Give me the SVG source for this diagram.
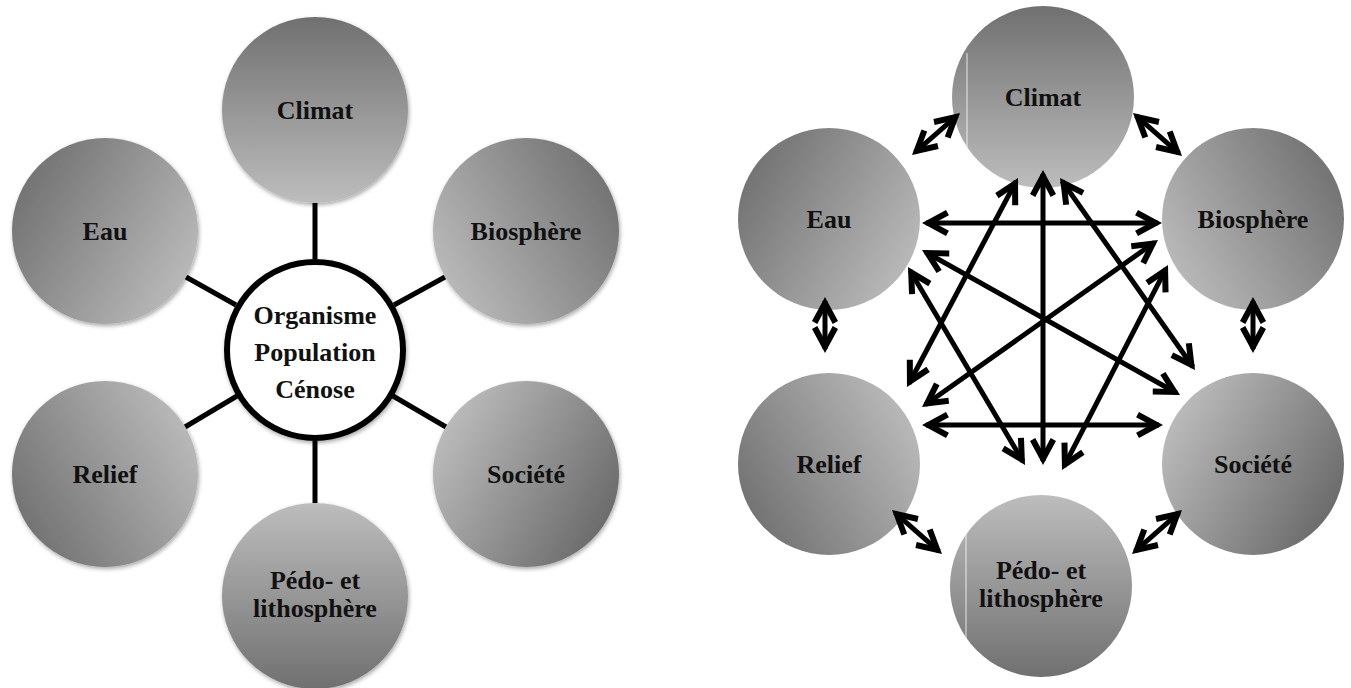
<svg xmlns="http://www.w3.org/2000/svg" xmlns:xlink="http://www.w3.org/1999/xlink" width="1351" height="688" viewBox="0 0 1351 688">
<style>
.t{font-family:"Liberation Serif","Times New Roman",serif;font-weight:bold;font-size:26px;text-anchor:middle;fill:#111}
.ln{stroke:#000;stroke-width:5;fill:none}
.sh{stroke:#000;stroke-width:5;fill:none}
.art{stroke:#fff;stroke-width:1;opacity:0.8}
</style>
<defs>
<linearGradient id="gTop" x1="0.5" y1="0" x2="0.5" y2="1"><stop offset="0" stop-color="#707070"/><stop offset="1" stop-color="#bdbdbd"/></linearGradient>
<linearGradient id="gBot" x1="0.5" y1="1" x2="0.5" y2="0"><stop offset="0" stop-color="#707070"/><stop offset="1" stop-color="#bdbdbd"/></linearGradient>
<linearGradient id="gUL" x1="0.067" y1="0.25" x2="0.933" y2="0.75"><stop offset="0" stop-color="#747474"/><stop offset="1" stop-color="#b8b8b8"/></linearGradient>
<linearGradient id="gUR" x1="0.933" y1="0.25" x2="0.067" y2="0.75"><stop offset="0" stop-color="#747474"/><stop offset="1" stop-color="#b8b8b8"/></linearGradient>
<linearGradient id="gLL" x1="0.067" y1="0.75" x2="0.933" y2="0.25"><stop offset="0" stop-color="#747474"/><stop offset="1" stop-color="#b8b8b8"/></linearGradient>
<linearGradient id="gLR" x1="0.933" y1="0.75" x2="0.067" y2="0.25"><stop offset="0" stop-color="#6c6c6c"/><stop offset="1" stop-color="#bababa"/></linearGradient>
<filter id="sh" x="-20%" y="-20%" width="140%" height="140%"><feDropShadow dx="1" dy="2" stdDeviation="2" flood-color="#000" flood-opacity="0.35"/></filter>
<polygon id="chev" points="0,0 -24,-13 -26.9,-7.7 -12.5,0 -26.9,7.7 -24,13" fill="#000"/>
</defs>

<!-- LEFT DIAGRAM -->
<g id="left-connectors">
<line class="ln" x1="315" y1="203" x2="315" y2="259"/>
<line class="ln" x1="315" y1="441" x2="315" y2="503"/>
<line class="ln" x1="186" y1="277" x2="236" y2="305"/>
<line class="ln" x1="445" y1="277" x2="394" y2="305"/>
<line class="ln" x1="185" y1="427" x2="237" y2="396"/>
<line class="ln" x1="446" y1="427" x2="393" y2="396"/>
</g>
<g id="L-climat"><circle cx="315" cy="110" r="93" fill="url(#gTop)" filter="url(#sh)"/><text class="t" x="315" y="119">Climat</text></g>
<g id="L-eau"><circle cx="105" cy="231" r="93" fill="url(#gUL)" filter="url(#sh)"/><text class="t" x="105" y="240">Eau</text></g>
<g id="L-biosphere"><circle cx="526" cy="231" r="93" fill="url(#gUR)" filter="url(#sh)"/><text class="t" x="526" y="240">Biosphère</text></g>
<g id="L-relief"><circle cx="105" cy="474" r="93" fill="url(#gLL)" filter="url(#sh)"/><text class="t" x="105" y="483">Relief</text></g>
<g id="L-societe"><circle cx="526" cy="474" r="93" fill="url(#gLR)" filter="url(#sh)"/><text class="t" x="526" y="483">Société</text></g>
<g id="L-pedo"><circle cx="315" cy="596" r="93" fill="url(#gBot)" filter="url(#sh)"/><text class="t" x="315" y="589">Pédo- et</text><text class="t" x="315" y="617">lithosphère</text></g>
<g id="L-center"><circle cx="315" cy="350" r="88" fill="#fff" stroke="#000" stroke-width="6" filter="url(#sh)"/>
<text class="t" x="315" y="324">Organisme</text><text class="t" x="315" y="361">Population</text><text class="t" x="315" y="398">Cénose</text></g>

<!-- RIGHT DIAGRAM -->
<g id="R-climat"><circle cx="1043" cy="97" r="91" fill="url(#gTop)"/><line class="art" x1="967" y1="53" x2="967" y2="175"/><text class="t" x="1043" y="106">Climat</text></g>
<g id="R-eau"><circle cx="829" cy="219" r="91" fill="url(#gUL)"/><text class="t" x="829" y="228">Eau</text></g>
<g id="R-biosphere"><circle cx="1253" cy="219" r="91" fill="url(#gUR)"/><text class="t" x="1253" y="228">Biosphère</text></g>
<g id="R-relief"><circle cx="829" cy="464" r="91" fill="url(#gLL)"/><text class="t" x="829" y="473">Relief</text></g>
<g id="R-societe"><circle cx="1253" cy="464" r="91" fill="url(#gLR)"/><text class="t" x="1253" y="473">Société</text></g>
<g id="R-pedo"><circle cx="1041" cy="586" r="91" fill="url(#gBot)"/><line class="art" x1="966" y1="533" x2="966" y2="640"/><text class="t" x="1041" y="579">Pédo- et</text><text class="t" x="1041" y="607">lithosphère</text></g>

<g id="right-connectors">
<g id="a-climat-eau"><line class="sh" x1="915" y1="152.4" x2="957" y2="115.6"/><use xlink:href="#chev" transform="translate(960,113) rotate(-41.2)"/><use xlink:href="#chev" transform="translate(912,155) rotate(138.8)"/></g>
<g id="a-climat-bio"><line class="sh" x1="1136" y1="115.6" x2="1179" y2="153.4"/><use xlink:href="#chev" transform="translate(1182,156) rotate(41.3)"/><use xlink:href="#chev" transform="translate(1133,113) rotate(-138.7)"/></g>
<g id="a-eau-relief"><line class="sh" x1="825" y1="301" x2="825" y2="349"/><use xlink:href="#chev" transform="translate(825,297) rotate(-90)"/><use xlink:href="#chev" transform="translate(825,353) rotate(90)"/></g>
<g id="a-bio-soc"><line class="sh" x1="1253" y1="301" x2="1253" y2="349"/><use xlink:href="#chev" transform="translate(1253,297) rotate(-90)"/><use xlink:href="#chev" transform="translate(1253,353) rotate(90)"/></g>
<g id="a-relief-pedo"><line class="sh" x1="895" y1="512.6" x2="939" y2="551.4"/><use xlink:href="#chev" transform="translate(942,554) rotate(41.3)"/><use xlink:href="#chev" transform="translate(892,510) rotate(-138.7)"/></g>
<g id="a-soc-pedo"><line class="sh" x1="1179" y1="512.6" x2="1135" y2="551.4"/><use xlink:href="#chev" transform="translate(1132,554) rotate(138.7)"/><use xlink:href="#chev" transform="translate(1182,510) rotate(-41.3)"/></g>
<g id="a-eau-bio"><line class="sh" x1="926" y1="223" x2="1158" y2="223"/><use xlink:href="#chev" transform="translate(922,223) rotate(180)"/><use xlink:href="#chev" transform="translate(1162,223)"/></g>
<g id="a-relief-soc"><line class="sh" x1="926" y1="425" x2="1159" y2="425"/><use xlink:href="#chev" transform="translate(922,425) rotate(180)"/><use xlink:href="#chev" transform="translate(1163,425)"/></g>
<g id="a-climat-pedo"><line class="sh" x1="1043" y1="174" x2="1043" y2="461"/><use xlink:href="#chev" transform="translate(1043,170) rotate(-90)"/><use xlink:href="#chev" transform="translate(1043,465) rotate(90)"/></g>
<g id="a-climat-relief"><line class="sh" x1="1016" y1="181.5" x2="909" y2="383.5"/><use xlink:href="#chev" transform="translate(907,387) rotate(118)"/><use xlink:href="#chev" transform="translate(1018,178) rotate(-62)"/></g>
<g id="a-climat-soc"><line class="sh" x1="1062" y1="181" x2="1193" y2="367"/><use xlink:href="#chev" transform="translate(1195,370) rotate(54.9)"/><use xlink:href="#chev" transform="translate(1060,178) rotate(-125.1)"/></g>
<g id="a-eau-soc"><line class="sh" x1="925.5" y1="252" x2="1176.5" y2="393"/><use xlink:href="#chev" transform="translate(1180,395) rotate(29.3)"/><use xlink:href="#chev" transform="translate(922,250) rotate(-150.7)"/></g>
<g id="a-eau-pedo"><line class="sh" x1="910" y1="270.4" x2="1023" y2="461.6"/><use xlink:href="#chev" transform="translate(1025,465) rotate(59.4)"/><use xlink:href="#chev" transform="translate(908,267) rotate(-120.6)"/></g>
<g id="a-bio-relief"><line class="sh" x1="1154.7" y1="242.3" x2="925.3" y2="404.7"/><use xlink:href="#chev" transform="translate(922,407) rotate(144.7)"/><use xlink:href="#chev" transform="translate(1158,240) rotate(-35.3)"/></g>
<g id="a-bio-pedo"><line class="sh" x1="1166" y1="268.6" x2="1064" y2="466.4"/><use xlink:href="#chev" transform="translate(1062,470) rotate(117.3)"/><use xlink:href="#chev" transform="translate(1168,265) rotate(-62.7)"/></g>
</g>
</svg>
